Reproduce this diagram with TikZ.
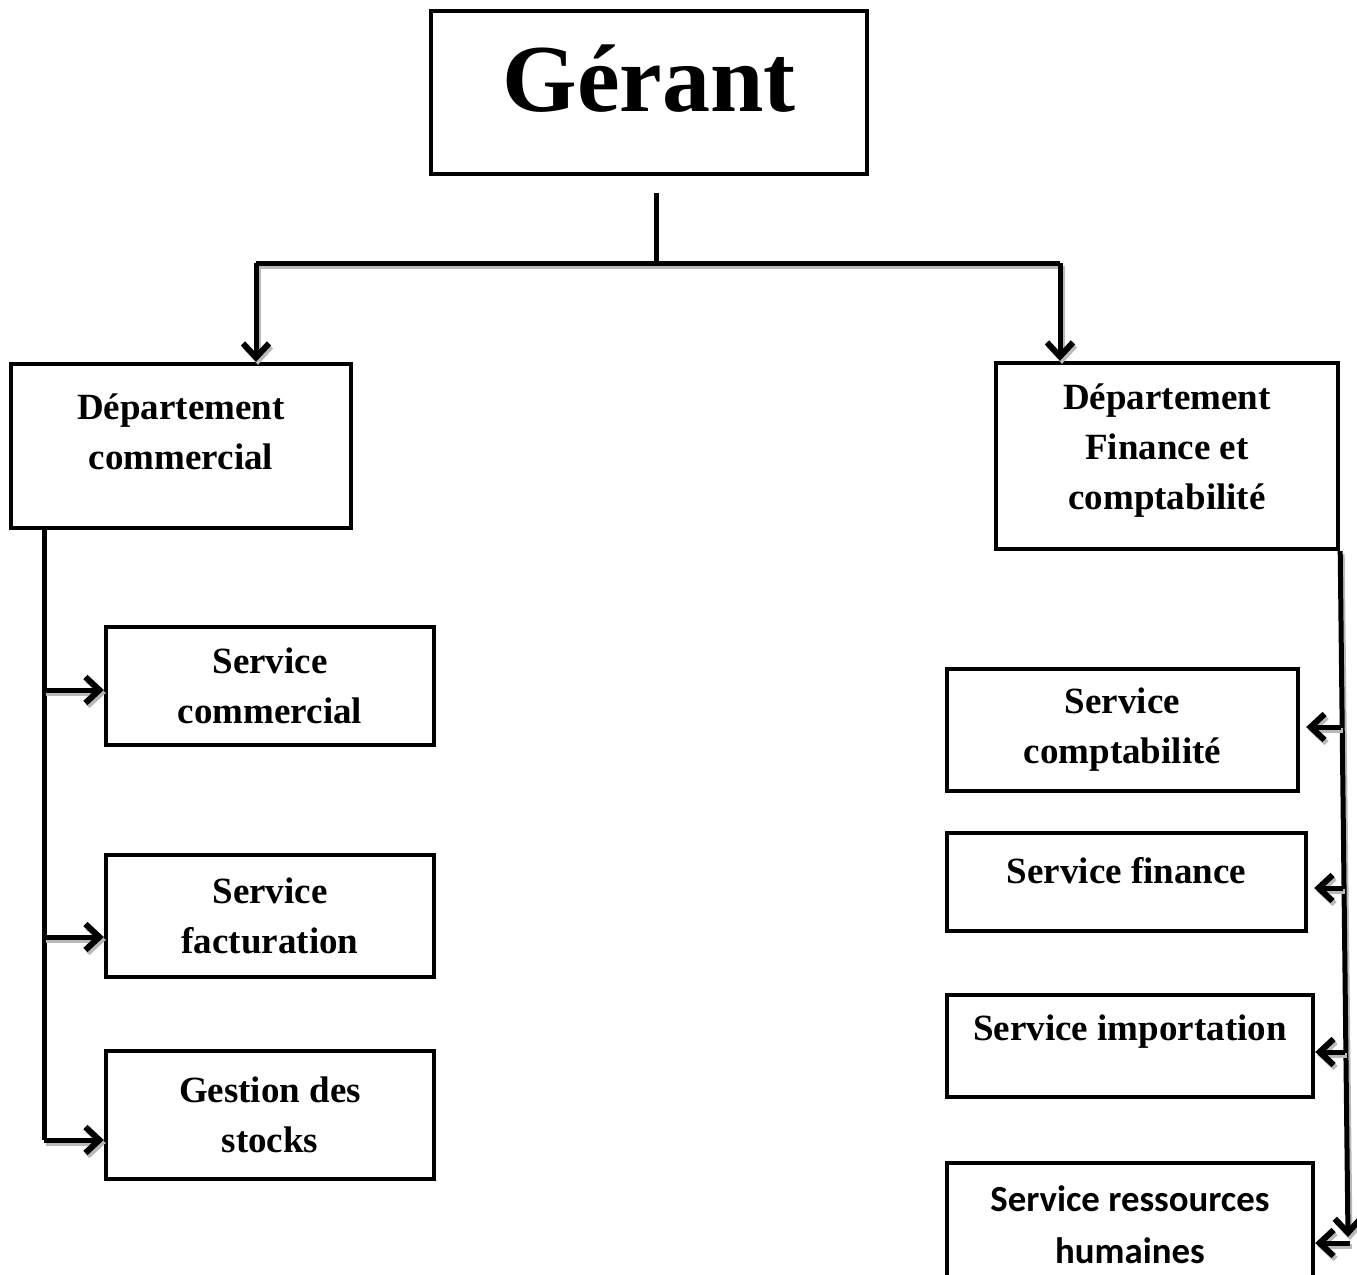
\documentclass[tikz,border=0pt]{standalone}
\usepackage{fontspec}
\setmainfont{Liberation Serif}
\newfontfamily\calibri{Carlito}
\usetikzlibrary{positioning,arrows.meta}

\tikzset{
  box/.style={draw, line width=2.2pt, align=center, inner sep=0pt,
    font=\bfseries\fontsize{18.5}{25}\selectfont},
  link/.style={line width=2.5pt},
  shade/.style={preaction={draw=gray!55, line width=2.5pt,
    transform canvas={shift={(1pt,-1.5pt)}}}},
  arr/.style={link, -{Straight Barb[length=7pt,width=13pt,line width=3pt]},
    preaction={draw=gray!55, line width=2.5pt,
      -{Straight Barb[length=7pt,width=13pt,line width=3pt]},
      transform canvas={shift={(1pt,-1.5pt)}}}}
}

\begin{document}
\begin{tikzpicture}[x=0.5pt,y=-0.5pt]
    \useasboundingbox (0,0) rectangle (1357,1275);

    % boxes
    \node[box, minimum width=218pt, minimum height=81.5pt, text depth=14pt,
      font=\bfseries\fontsize{48}{50}\selectfont] (gerant) at (649,92.5) {Gérant};
    \node[box, minimum width=170pt, minimum height=82pt, text depth=14pt] (dcom) at (181,446) {Département\\commercial};
    \node[box, minimum width=171pt, minimum height=93pt, text depth=9pt] (dfin) at (1167,456) {Département\\Finance et\\comptabilité};

    \node[box, minimum width=164pt, minimum height=59pt] (scom) at (270,686) {Service\\commercial};
    \node[box, minimum width=164pt, minimum height=61pt] (sfac) at (270,916) {Service\\facturation};
    \node[box, minimum width=164pt, minimum height=64pt] (gstock) at (270,1115) {Gestion des\\stocks};

    \node[box, minimum width=175.5pt, minimum height=61pt] (scompta) at (1122.5,730) {Service\\comptabilité};
    \node[box, minimum width=179.5pt, minimum height=49pt, text depth=12pt] (sfin) at (1126.5,882) {Service finance};
    \node[box, minimum width=183pt, minimum height=51pt, text depth=18pt] (simp) at (1130,1046) {Service importation};
    \node[box, minimum width=183pt, minimum height=64pt, text depth=2pt,
      font=\calibri\bfseries\fontsize{18.4}{26}\selectfont] (srh) at (1130,1227) {Service ressources\\humaines};

    % top links
    \coordinate (gdrop) at (656,193);
    \coordinate (gjoin) at (656,263);
    \coordinate (hl) at (256,263);
    \coordinate (hr) at (1060,263);
    \draw[link] (gdrop) -- (gjoin);
    \draw[link, shade] (hl) -- (hr);
    \draw[arr] (hl) -- (hl |- dcom.north);
    \draw[arr] (hr) -- (hr |- dfin.north);

    % left branch
    \coordinate (ltop) at (44,528);
    \coordinate (l1) at (44,690);
    \coordinate (l2) at (44,937);
    \coordinate (l3) at (44,1140);
    \draw[link] (ltop) -- (l3);
    \draw[arr] (l1) -- (l1 -| scom.west);
    \draw[arr] (l2) -- (l2 -| sfac.west);
    \draw[arr] (l3) -- (l3 -| gstock.west);

    % right branch
    \coordinate (rbot) at (1348,1237);
    \coordinate (r1) at (1341,727);
    \coordinate (r2) at (1343,888);
    \coordinate (r3) at (1345,1052);
    \coordinate (r4) at (1350,1243);
    \draw[arr] (dfin.south east) -- (rbot);
    \draw[arr, shorten >=3pt] (r1) -- (r1 -| scompta.east);
    \draw[arr, shorten >=3pt] (r2) -- (r2 -| sfin.east);
    \draw[arr] (r3) -- (r3 -| simp.east);
    \draw[arr] (r4) -- (r4 -| srh.east);
\end{tikzpicture}
\end{document}
